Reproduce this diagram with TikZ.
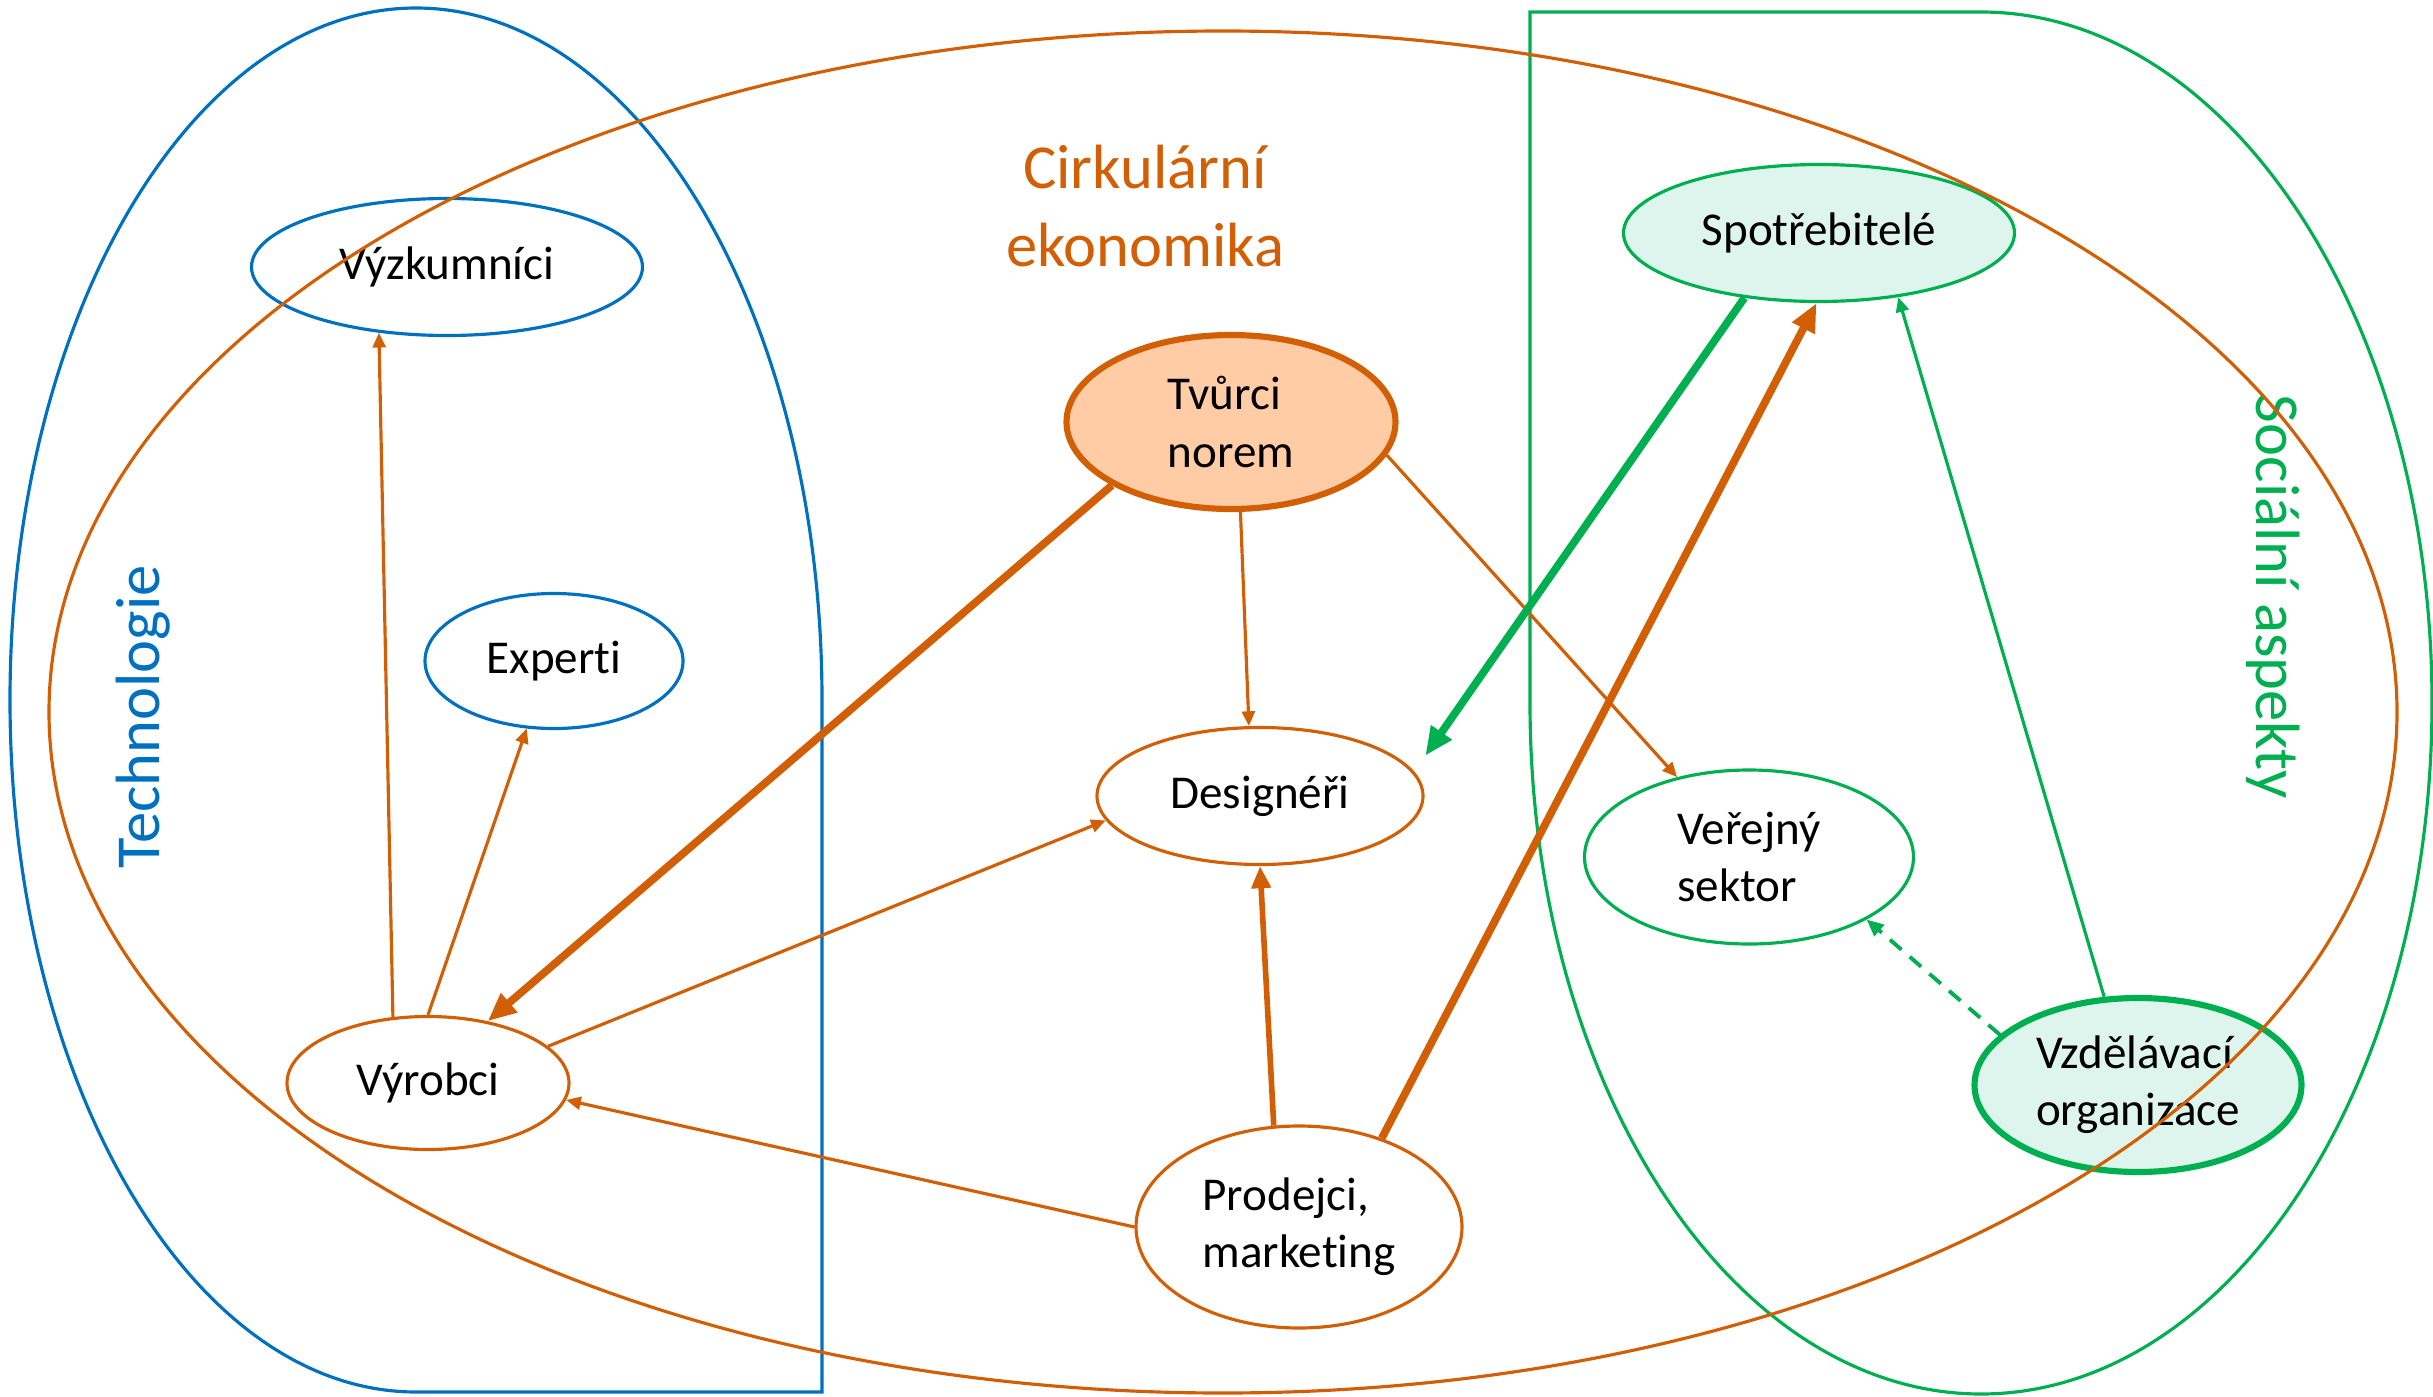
\documentclass[tikz,border=0pt]{standalone}
\usepackage{fontspec}
\setmainfont{Carlito}[Ligatures=NoCommon]
\usetikzlibrary{shapes.geometric,arrows.meta}

\definecolor{orng}{RGB}{210,95,5}
\definecolor{blu}{RGB}{0,112,192}
\definecolor{grn}{RGB}{0,176,80}
\definecolor{peach}{RGB}{255,204,165}
\definecolor{mint}{RGB}{222,245,237}

\begin{document}
\begin{tikzpicture}[
    >={Triangle[length=1.5pt 3, width=1.5pt 2.4]},
    actor/.style={ellipse, line width=0.9pt, inner sep=0pt, align=left,
        font=\fontsize{13.4}{16.3}\selectfont},
    techactor/.style={actor, draw=blu},
    econactor/.style={actor, draw=orng},
    socactor/.style={actor, draw=grn},
    flow/.style={->, orng, line width=0.9pt},
    bigflow/.style={->, orng, line width=2.2pt},
    area/.style={line width=0.9pt},
    title/.style={font=\fontsize{17.8}{22}\selectfont, align=center}
]
    \useasboundingbox (0,0) rectangle (24.33,-13.97);

    % Draw the two side areas
    \draw[area, blu] (4.16,-13.92) -- (8.22,-13.92) -- (8.22,-7.00) arc (0:270:4.06 and 6.92) -- cycle;
    \draw[area, grn] (15.30,-0.12) -- (19.81,-0.12) arc (90:-180:4.51 and 6.91) -- cycle;

    % Labels for the areas
    \node[title, blu, rotate=90] (techlabel) at (1.43,-7.17) {Technologie};
    \node[title, grn, rotate=-90] (soclabel) at (22.73,-5.97) {Sociální aspekty};
    \node[title, orng] (celabel) at (11.45,-2.06) {Cirkulární\\ekonomika};

    % Draw the actors
    \node[techactor, minimum width=3.91cm, minimum height=1.37cm] (vyzkum) at (4.47,-2.67) {Výzkumníci};
    \node[techactor, minimum width=2.58cm, minimum height=1.35cm] (experti) at (5.54,-6.61) {Experti};
    \node[econactor, minimum width=2.82cm, minimum height=1.33cm] (vyrobci) at (4.28,-10.83) {Výrobci};
    \node[econactor, fill=peach, line width=1.75pt, minimum width=3.29cm, minimum height=1.74cm] (tvurci) at (12.31,-4.22) {Tvůrci\\norem};
    \node[econactor, minimum width=3.26cm, minimum height=1.37cm] (design) at (12.60,-7.96) {Designéři};
    \node[econactor, minimum width=3.26cm, minimum height=2.02cm] (prodejci) at (12.99,-12.27) {Prodejci,\\marketing};
    \node[socactor, fill=mint, minimum width=3.91cm, minimum height=1.37cm] (spotreb) at (18.19,-2.33) {Spotřebitelé};
    \node[socactor, minimum width=3.29cm, minimum height=1.74cm] (verejny) at (17.49,-8.57) {Veřejný\\sektor};
    \node[socactor, fill=mint, line width=1.75pt, minimum width=3.27cm, minimum height=1.74cm] (vzdel) at (21.38,-10.85) {Vzdělávací\\organizace};

    % Draw the flows
    \draw[flow] (vyrobci.118) -- (vyzkum.224);
    \draw[flow] (vyrobci.90) -- (experti.248);
    \draw[bigflow] (tvurci.208) -- (vyrobci.46);
    \draw[flow] (tvurci.276) -- (design.99);
    \draw[flow] (tvurci.348) -- (verejny.132);
    \draw[flow] (vyrobci.17) -- (design.189);
    \draw[flow] (prodejci.180) -- (vyrobci.353);
    \draw[->, orng, line width=1.6pt] (prodejci.104) -- (design.270);
    \draw[bigflow] (prodejci.47) -- (spotreb.268);
    \draw[->, grn, line width=2.2pt, shorten >=5.5pt] (spotreb.221) -- (design.9);
    \draw[->, grn, line width=0.9pt] (vzdel.111) -- (spotreb.321);
    \draw[->, grn, line width=1.1pt, dash pattern=on 4.3pt off 3.1pt] (vzdel.160) -- (verejny.332);

    % Draw the circular economy area on top
    \draw[area, orng] (12.23,-7.12) ellipse (11.74 and 6.81);
\end{tikzpicture}
\end{document}
